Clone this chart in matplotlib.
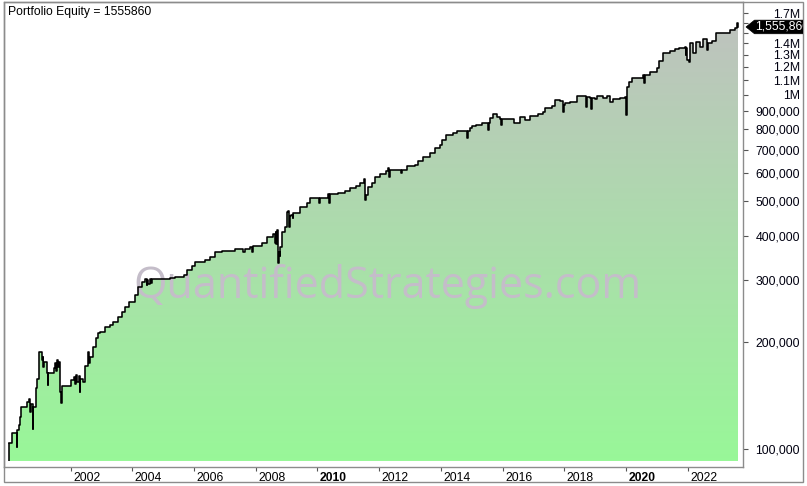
import matplotlib
matplotlib.use('Agg')
import matplotlib.pyplot as plt
import numpy as np
from matplotlib.patches import Rectangle, Polygon
from matplotlib.ticker import NullLocator, FixedLocator, FuncFormatter
from matplotlib.transforms import ScaledTranslation, blended_transform_factory, Bbox, TransformedBbox

plt.rcParams['font.family'] = ['Liberation Sans', 'DejaVu Sans']

# Equity curve (decimal year, equity in thousands), one list pair per period
yrs_a = [2000.00, 2000.10, 2000.26, 2000.27, 2000.32, 2000.36, 2000.39, 2000.58, 2000.65, 2000.68, 2000.71, 2000.77,
         2000.78, 2000.88, 2000.91, 2000.97, 2001.07, 2001.09, 2001.11, 2001.13, 2001.23, 2001.26, 2001.27, 2001.46,
         2001.50, 2001.53, 2001.56, 2001.59, 2001.62, 2001.65, 2001.68, 2001.71, 2002.01, 2002.10, 2002.14, 2002.18,
         2002.22, 2002.26, 2002.30, 2002.31, 2002.40, 2002.47, 2002.56, 2002.59, 2002.63, 2002.72, 2002.82, 2002.88]
eq_a = [104, 111, 101, 113, 117, 123, 131, 136, 138, 127, 134, 114,
        131, 149, 158, 188, 178, 182, 170, 176, 164, 152, 164, 169,
        175, 166, 178, 170, 176, 145, 135, 151, 157, 160, 153, 162,
        155, 161, 145, 158, 155, 171, 188, 175, 182, 194, 206, 213]

yrs_b = [2002.95, 2003.11, 2003.27, 2003.37, 2003.53, 2003.66, 2003.76, 2003.89, 2004.08, 2004.18, 2004.31, 2004.41,
         2004.46, 2004.47, 2004.51, 2004.56, 2004.62, 2004.64, 2005.22, 2005.38, 2005.67, 2005.77, 2005.93, 2006.03,
         2006.35, 2006.52, 2006.68, 2006.90, 2007.33, 2007.59, 2007.65, 2007.81, 2007.88, 2007.90, 2008.20, 2008.36,
         2008.56, 2008.62, 2008.64, 2008.66, 2008.69, 2008.72, 2008.75, 2008.78, 2008.80, 2008.85, 2008.95]
eq_b = [214, 221, 224, 229, 236, 244, 252, 260, 272, 287, 297, 302,
        290, 300, 292, 302, 294, 302, 304, 306, 310, 321, 329, 338,
        342, 349, 360, 363, 368, 360, 368, 372, 360, 375, 382, 397,
        405, 382, 410, 380, 416, 336, 360, 350, 372, 411, 424]

yrs_c = [2009.01, 2009.04, 2009.08, 2009.10, 2009.14, 2009.20, 2009.22, 2009.43, 2009.66, 2009.76,
         2010.05, 2010.07, 2010.34, 2010.38, 2010.40, 2010.66, 2010.89,
         2011.05, 2011.25, 2011.38, 2011.51, 2011.54, 2011.57, 2011.64, 2011.77, 2011.86,
         2012.03, 2012.22, 2012.29, 2012.32, 2012.34, 2012.72, 2012.75, 2012.90,
         2013.16, 2013.26, 2013.42, 2013.65, 2013.81, 2013.97]
eq_c = [468, 471, 424, 455, 459, 450, 465, 483, 496, 512,
        496, 512, 526, 496, 526, 529, 536,
        547, 554, 565, 580, 506, 520, 550, 565, 587,
        599, 611, 623, 587, 615, 603, 615, 631,
        635, 652, 669, 687, 709, 723]

yrs_d = [2014.03, 2014.17, 2014.39, 2014.52, 2014.85, 2014.87, 2014.94,
         2015.01, 2015.14, 2015.33, 2015.53, 2015.55, 2015.59, 2015.69, 2015.82, 2015.92, 2015.95, 2015.97,
         2016.37, 2016.56, 2016.73, 2016.89,
         2017.15, 2017.31, 2017.37, 2017.60, 2017.70, 2017.86, 2017.96, 2017.98,
         2018.02, 2018.18, 2018.41, 2018.70, 2018.72, 2018.83, 2018.87, 2018.89, 2018.99,
         2019.06, 2019.25, 2019.38, 2019.48, 2019.58, 2019.81, 2019.97]
eq_d = [747, 772, 782, 792, 757, 792, 808,
        819, 824, 835, 798, 835, 862, 885, 868, 857, 824, 857,
        835, 868, 851, 874,
        885, 897, 920, 932, 970, 963, 897, 939,
        951, 957, 995, 926, 989, 982, 914, 982, 976,
        995, 982, 995, 957, 976, 982, 989]

yrs_e = [2020.00, 2020.03, 2020.10, 2020.19, 2020.55, 2020.58, 2020.60, 2020.78,
         2021.00, 2021.07, 2021.20, 2021.43, 2021.59, 2021.72, 2021.91, 2021.93, 2021.95, 2021.98,
         2022.03, 2022.07, 2022.17, 2022.27, 2022.40, 2022.50, 2022.63, 2022.66, 2022.79, 2022.92,
         2023.37, 2023.53, 2023.58, 2023.60, 2023.63]
eq_e = [879, 1055, 1090, 1119, 1141, 1083, 1141, 1163,
        1194, 1250, 1317, 1334, 1351, 1360, 1369, 1300, 1360, 1258,
        1242, 1405, 1317, 1414, 1369, 1442, 1343, 1405, 1423, 1499,
        1529, 1549, 1590, 1600, 1555.86]

final_equity = 1555860
fill_floor = 92500

ytick_vals = [100000, 200000, 300000, 400000, 500000, 600000, 700000, 800000, 900000,
              1000000, 1100000, 1200000, 1300000, 1400000, 1500000, 1600000, 1700000]
hidden_labels = [1500000, 1600000]  # sit under the last-value marker in the original
xtick_years = [2002, 2004, 2006, 2008, 2010, 2012, 2014, 2016, 2018, 2020, 2022]
bold_years = [2010, 2020]

years = np.array(yrs_a + yrs_b + yrs_c + yrs_d + yrs_e)
equity = np.array(eq_a + eq_b + eq_c + eq_d + eq_e) * 1000.0

W, H = 807, 486
BORDER = '#8c8c8c'


def px_rect(x0, y0, x1, y1):
    """pixel box (top-left origin) -> figure fraction rect"""
    return [x0 / W, 1 - y1 / H, (x1 - x0) / W, (y1 - y0) / H]


def fmt_value(v, pos=None):
    if int(round(v)) in hidden_labels:
        return ''
    if v >= 1000000:
        s = f'{v / 1e6:.1f}'.rstrip('0').rstrip('.')
        return s + 'M'
    return f'{int(v):,}'


fig = plt.figure(figsize=(W / 100, H / 100), dpi=100)
ax = fig.add_axes(px_rect(4, 2, 743, 467))
ax.set_yscale('log')

# gradient area under the equity curve
fill = ax.fill_between(years, equity, fill_floor, step='post', facecolor='none', edgecolor='none')
t = np.linspace(0, 1, 256)[:, None, None]
top_col = np.array([192, 192, 192]) / 255
bot_col = np.array([152, 248, 152]) / 255
grad = top_col * (1 - t) + bot_col * t
im = ax.imshow(grad, extent=[0, 1, 0, 1], transform=ax.transAxes, aspect='auto',
               origin='upper', zorder=1, interpolation='bilinear')
im.set_clip_path(fill.get_paths()[0], transform=ax.transData)

ax.step(years, equity, where='post', color='black', lw=1.15, zorder=3)
ax.vlines(years[0], fill_floor, equity[0], color='black', lw=1.15, zorder=3)

ax.set_xlim(1999.84, 2023.79)
ax.set_ylim(88900, 1830000)

# watermark
ax.text(387 / W, 1 - 298 / H, 'QuantifiedStrategies.com', transform=fig.transFigure,
        fontsize=31, family='Open Sans', color='#c4bdc9', ha='center', va='baseline', zorder=2)

for sp in ax.spines.values():
    sp.set_color(BORDER)
    sp.set_linewidth(1)

# value axis on the right
ax.yaxis.tick_right()
ax.yaxis.set_major_locator(FixedLocator(ytick_vals))
ax.yaxis.set_major_formatter(FuncFormatter(fmt_value))
ax.yaxis.set_minor_locator(NullLocator())
ax.tick_params(axis='y', which='major', direction='out', length=3.6, width=0.8,
               color='#555555', pad=37.4, labelsize=8.8, labelcolor='#000010')
for lbl in ax.get_yticklabels():
    lbl.set_ha('right')

# date axis strip
ax.set_xticks(xtick_years)
ax.set_xticklabels([str(y) for y in xtick_years])
ax.xaxis.set_minor_locator(NullLocator())
ax.tick_params(axis='x', direction='out', length=3, width=0.8, color='#555555',
               pad=0.3, labelsize=8.7)
shift = ScaledTranslation(2.5 / 100, 0, fig.dpi_scale_trans)
for lbl, yr in zip(ax.get_xticklabels(), xtick_years):
    lbl.set_ha('left')
    lbl.set_transform(lbl.get_transform() + shift)
    if yr in bold_years:
        lbl.set_fontweight('bold')

# outer frame
fig.add_artist(Rectangle((4 / W, 1 - 482 / H), 799 / W, 480 / H, transform=fig.transFigure,
                         fill=False, ec=BORDER, lw=1))

# last value marker on the value axis
clip_box = TransformedBbox(Bbox([[743 / W, 0], [803 / W, 1]]), fig.transFigure)
anchor = blended_transform_factory(ax.transAxes, ax.transData)
tr = fig.dpi_scale_trans + ScaledTranslation(1.0, final_equity, anchor)
marker = Polygon([(0.03, 0), (0.115, 0.068), (0.7, 0.068), (0.7, -0.068), (0.115, -0.068)],
                 closed=True, transform=tr, fc='black', ec='black', lw=0.5)
fig.add_artist(marker)
marker.set_clip_box(clip_box)
val_txt = fig.text(0.125, 0, f'{final_equity:,}', transform=tr, color='white', fontsize=8.8,
                   va='center', ha='left')
val_txt.set_clip_box(clip_box)
val_txt.set_clip_on(True)

fig.text(8 / W, 1 - 12 / H, f'Portfolio Equity = {final_equity}', fontsize=8.7, va='center', ha='left')

fig.savefig('out.png', dpi=100)
